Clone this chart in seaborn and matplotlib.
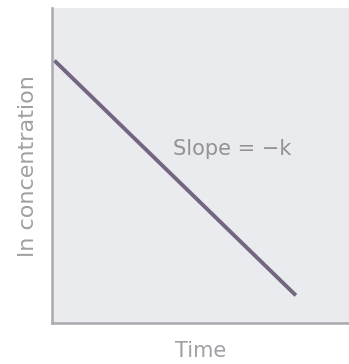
import matplotlib
matplotlib.use("Agg")
import matplotlib.pyplot as plt
import seaborn as sns
import pandas as pd

# First-order decay: ln[A] falls linearly with time
time = [0.0, 10.0]
ln_concentration = [0.85, 0.09]
x_label = "Time"
y_label = "ln concentration"
slope_label = "Slope = \u2212k"

sns.set_theme(style="white")
plt.rcParams["font.family"] = ["DejaVu Sans"]

df = pd.DataFrame({"time": time, "ln_conc": ln_concentration})

fig = plt.figure(figsize=(3.49, 3.64), dpi=100)
ax = fig.add_axes([0.149, 0.112, 0.851, 0.866])
ax.set_facecolor("#eaebee")

sns.lineplot(data=df, x="time", y="ln_conc", ax=ax, color="#736680",
             linewidth=2.8, solid_capstyle="butt")

ax.set_xlim(-0.1, 12.2)
ax.set_ylim(0, 1.02)
ax.set_xticks([])
ax.set_yticks([])

for side in ("top", "right"):
    ax.spines[side].set_visible(False)
for side in ("left", "bottom"):
    ax.spines[side].set_color("#a9a9ad")
    ax.spines[side].set_linewidth(1.8)

ax.set_xlabel(x_label, fontsize=15, color="#a0a0a4", labelpad=13)
ax.set_ylabel(y_label, fontsize=16, color="#a0a0a4", labelpad=10)

ax.text(7.35, 0.565, slope_label, fontsize=15, color="#939397",
        ha="center", va="center")

fig.savefig("out.png", dpi=100)
